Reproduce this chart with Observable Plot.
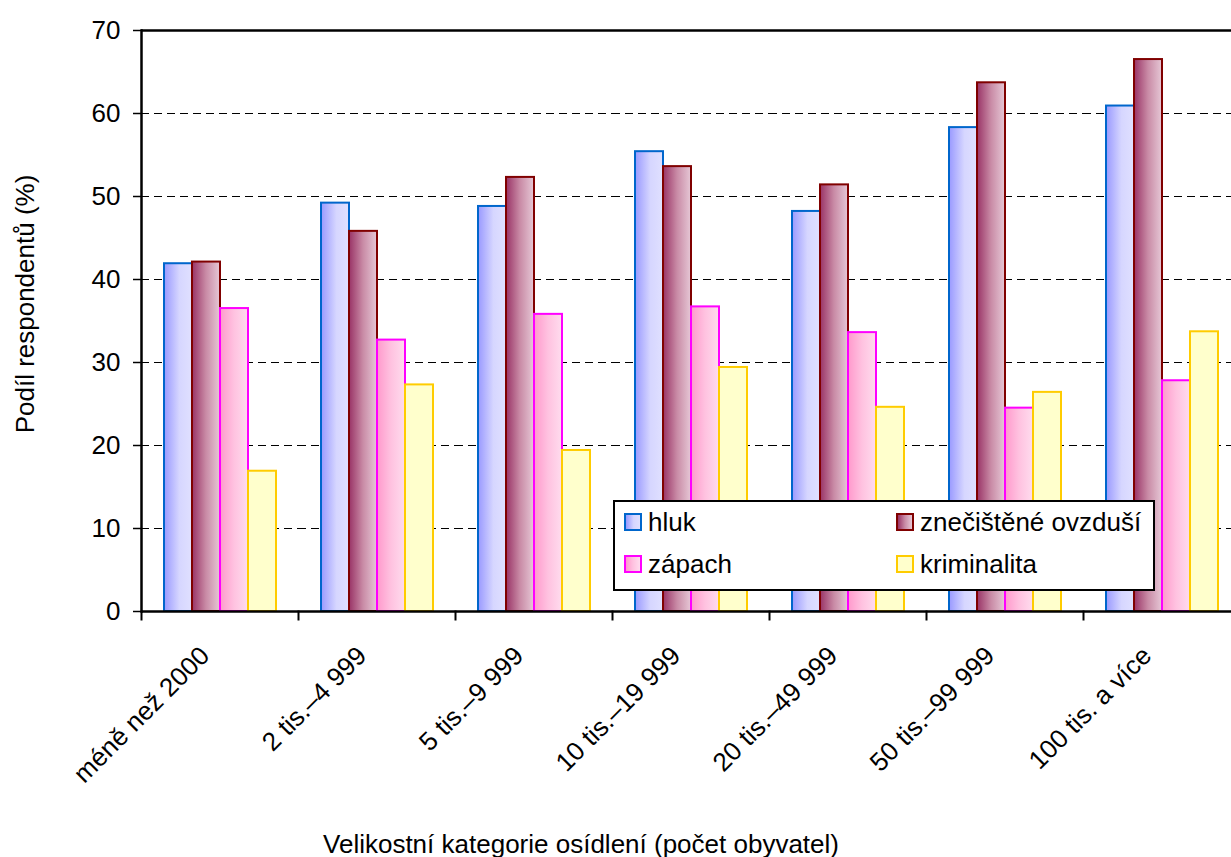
<!DOCTYPE html>
<html>
<head>
<meta charset="utf-8">
<script src="https://cdn.jsdelivr.net/npm/d3@7"></script>
<script src="https://cdn.jsdelivr.net/npm/@observablehq/plot@0.6"></script>
<style>
  html, body { margin: 0; padding: 0; background: #fff; overflow: hidden; }
  body { width: 1231px; height: 857px; position: relative; font-family: "Liberation Sans", Arial, sans-serif; }
  #chart { position: absolute; left: 0; top: 0; width: 1231px; height: 857px; overflow: hidden; }
  .ylabel { position: absolute; left: 25px; top: 304px; transform: translate(-50%, -50%) rotate(-90deg); font-size: 26px; line-height: 1; white-space: nowrap; color: #000; }
  .xlabel { position: absolute; left: 581px; top: 831px; transform: translate(-50%, 0); font-size: 26px; line-height: 1; white-space: nowrap; color: #000; }
  .legend { position: absolute; left: 613px; top: 500px; width: 538px; height: 87px; border: 2px solid #000; background: #fff; }
  .item { position: absolute; display: flex; align-items: center; height: 30px; font-size: 26px; line-height: 1; color: #000; }
  .sw { width: 18px; height: 18px; box-sizing: border-box; border: 2px solid; margin-right: 6px; }
</style>
</head>
<body>
<svg width="0" height="0" style="position:absolute">
  <defs>
    <linearGradient id="g0" x1="0" x2="1" y1="0" y2="0">
      <stop offset="0" stop-color="#9999ff"/>
      <stop offset="0.55" stop-color="#d6d6ff"/>
      <stop offset="1" stop-color="#e0e0ff"/>
    </linearGradient>
    <linearGradient id="g1" x1="0" x2="1" y1="0" y2="0">
      <stop offset="0" stop-color="#993366"/>
      <stop offset="0.5" stop-color="#c98ba6"/>
      <stop offset="1" stop-color="#e6c8d6"/>
    </linearGradient>
    <linearGradient id="g2" x1="0" x2="1" y1="0" y2="0">
      <stop offset="0" stop-color="#ff99cc"/>
      <stop offset="0.5" stop-color="#ffc2e0"/>
      <stop offset="1" stop-color="#ffdcee"/>
    </linearGradient>
    <linearGradient id="g3" x1="0" x2="1" y1="0" y2="0">
      <stop offset="0" stop-color="#ffffcc"/>
      <stop offset="1" stop-color="#ffffcc"/>
    </linearGradient>
  </defs>
</svg>
<div id="chart"></div>
<div class="ylabel">Podíl respondentů (%)</div>
<div class="xlabel">Velikostní kategorie osídlení (počet obyvatel)</div>
<div class="legend" id="legend"></div>
<script>
const categories = ["méně než 2000", "2 tis.–4 999", "5 tis.–9 999", "10 tis.–19 999", "20 tis.–49 999", "50 tis.–99 999", "100 tis. a více"];
const seriesNames = ["hluk", "znečištěné ovzduší", "zápach", "kriminalita"];
const hluk = [41.9, 49.2, 48.8, 55.4, 48.2, 58.3, 60.9];
const znecisteneOvzdusi = [42.1, 45.8, 52.3, 53.6, 51.4, 63.7, 66.5];
const zapach = [36.5, 32.7, 35.8, 36.7, 33.6, 24.5, 27.8];
const kriminalita = [16.9, 27.3, 19.4, 29.4, 24.6, 26.4, 33.7];
const yTicks = [0, 10, 20, 30, 40, 50, 60, 70];

const seriesValues = [hluk, znecisteneOvzdusi, zapach, kriminalita];
const strokes = ["#0066cc", "#800000", "#ff00ff", "#ffcc00"];
const fills = ["url(#g0)", "url(#g1)", "url(#g2)", "url(#g3)"];
const cssFills = [
  "linear-gradient(to right, #9999ff, #d6d6ff 55%, #e0e0ff)",
  "linear-gradient(to right, #993366, #c98ba6 50%, #e6c8d6)",
  "linear-gradient(to right, #ff99cc, #ffc2e0 50%, #ffdcee)",
  "#ffffcc"
];

const rows = [];
seriesNames.forEach((s, si) => categories.forEach((c, ci) => rows.push({category: c, series: s, value: seriesValues[si][ci]})));

const barMarks = seriesNames.map((s, si) =>
  Plot.barY(rows.filter(d => d.series === s), {
    fx: "category", x: "series", y: "value",
    fill: fills[si], stroke: strokes[si], strokeWidth: 2
  })
);

const chart = Plot.plot({
  width: 1231,
  height: 857,
  marginLeft: 140,
  marginRight: -10,
  marginTop: 30,
  marginBottom: 246,
  style: {fontFamily: "'Liberation Sans', Arial, sans-serif", fontSize: "26px", color: "#000", background: "transparent", overflow: "visible"},
  fx: {domain: categories, padding: 0},
  x: {domain: seriesNames, paddingInner: 0, paddingOuter: 0.75, axis: null},
  y: {domain: [0, 70]},
  marks: [
    Plot.gridY(yTicks.slice(1, -1), {stroke: "#000", strokeOpacity: 1, strokeWidth: 1.2, strokeDasharray: "8,5"}),
    ...barMarks,
    Plot.ruleY([70], {stroke: "#000", strokeWidth: 2.5}),
    Plot.ruleY([0], {stroke: "#000", strokeWidth: 2.5}),
    Plot.frame({anchor: "left", facetAnchor: "left", stroke: "#000", strokeWidth: 2.5}),
    Plot.frame({anchor: "left", insetTop: 581, insetBottom: -8, stroke: "#000", strokeWidth: 2}),
    Plot.axisY(yTicks, {tickSize: 8, tickPadding: 13, fontSize: 26, label: null, strokeWidth: 1.5}),
    Plot.axisFx({anchor: "bottom", tickRotate: -45, tickSize: 0, tickPadding: 40, dx: -15, fontSize: 26, label: null})
  ]
});
document.getElementById("chart").appendChild(chart);

const legend = document.getElementById("legend");
const pos = [[9, 20], [281, 20], [9, 62], [281, 62]];
seriesNames.forEach((s, i) => {
  const item = document.createElement("div");
  item.className = "item";
  item.style.left = pos[i][0] + "px";
  item.style.top = (pos[i][1] - 15) + "px";
  const sw = document.createElement("div");
  sw.className = "sw";
  sw.style.borderColor = strokes[i];
  sw.style.background = cssFills[i];
  const t = document.createElement("span");
  t.textContent = s;
  item.appendChild(sw);
  item.appendChild(t);
  legend.appendChild(item);
});
</script>
</body>
</html>
